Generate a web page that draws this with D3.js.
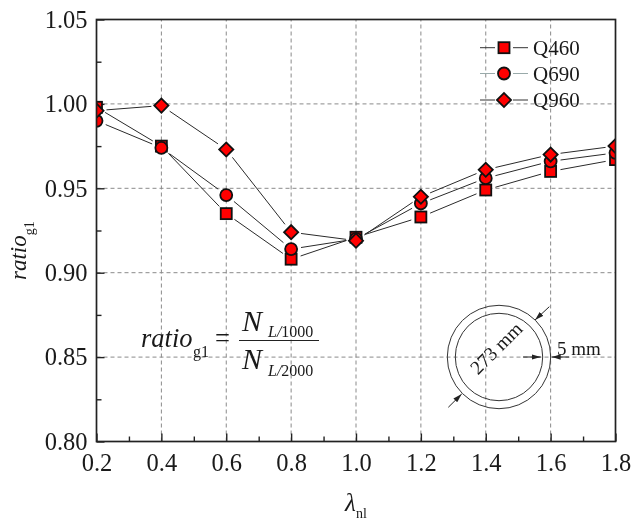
<!DOCTYPE html>
<html>
<head>
<meta charset="utf-8">
<script src="https://cdn.jsdelivr.net/npm/d3@7"></script>
<style>
  html, body { margin: 0; padding: 0; background: #fff; }
  svg { display: block; filter: blur(0.35px); }
  text { font-family: "Liberation Serif", serif; fill: #1a1a1a; }
</style>
</head>
<body>
<svg id="chart" width="631" height="521"></svg>
<script>
const lambda = [0.2, 0.4, 0.6, 0.8, 1.0, 1.2, 1.4, 1.6, 1.8]
const q460 = [0.998, 0.975, 0.935, 0.908, 0.921, 0.933, 0.949, 0.960, 0.967]
const q690 = [0.990, 0.974, 0.946, 0.914, 0.920, 0.941, 0.956, 0.966, 0.971]
const q960 = [0.996, 0.999, 0.973, 0.924, 0.919, 0.945, 0.961, 0.970, 0.975]
const seriesNames = ['Q460', 'Q690', 'Q960']
const seriesValues = [q460, q690, q960]
const seriesSymbols = ['square', 'circle', 'diamond']
const xTicks = [0.2, 0.4, 0.6, 0.8, 1.0, 1.2, 1.4, 1.6, 1.8]
const xMinorTicks = [0.3, 0.5, 0.7, 0.9, 1.1, 1.3, 1.5, 1.7]
const yTicks = [0.80, 0.85, 0.90, 0.95, 1.00, 1.05]
const yMinorTicks = [0.825, 0.875, 0.925, 0.975, 1.025]

const svg = d3.select('#chart')
const margin = {top: 19.5, right: 15.5, bottom: 79.5, left: 96.5}
const width = 631
const height = 521

const x = d3.scaleLinear().domain([0.2, 1.8]).range([margin.left, width - margin.right])
const y = d3.scaleLinear().domain([0.80, 1.05]).range([height - margin.bottom, margin.top])

// the markers at both ends get cut by the frame in the original
svg.append('clipPath').attr('id', 'plot-clip')
  .append('rect')
  .attr('x', margin.left)
  .attr('y', margin.top)
  .attr('width', x.range()[1] - margin.left)
  .attr('height', y.range()[0] - margin.top)

// dashed grid
const grid = svg.append('g')
  .attr('stroke', '#8a8a8a')
  .attr('stroke-width', 1)
  .attr('stroke-dasharray', '4 3')
grid.selectAll('.gx')
  .data(xTicks.slice(1, -1))
  .enter().append('line')
  .attr('x1', d => x(d)).attr('x2', d => x(d))
  .attr('y1', y(0.80)).attr('y2', y(1.05))
grid.selectAll('.gy')
  .data(yTicks.slice(1, -1))
  .enter().append('line')
  .attr('x1', x(0.2)).attr('x2', x(1.8))
  .attr('y1', d => y(d)).attr('y2', d => y(d))

// inward ticks, labels sit outside
function styleAxis(g) {
  g.select('.domain').remove()
  g.selectAll('line').attr('stroke', '#222').attr('stroke-width', 1.4)
  g.selectAll('text').attr('font-size', 24.5).attr('fill', '#1a1a1a')
    .attr('font-family', '"Liberation Serif", serif')
}

svg.append('g')
  .attr('transform', `translate(0,${y(0.80)})`)
  .call(d3.axisBottom(x).tickValues(xTicks).tickFormat(d3.format('.1f')).tickSizeInner(-8).tickPadding(12))
  .call(styleAxis)
  .selectAll('text').attr('dy', '0.71em')

svg.append('g')
  .attr('transform', `translate(${margin.left},0)`)
  .call(d3.axisLeft(y).tickValues(yTicks).tickFormat(d3.format('.2f')).tickSizeInner(-8).tickPadding(9))
  .call(styleAxis)

svg.append('g')
  .attr('transform', `translate(0,${y(0.80)})`)
  .call(d3.axisBottom(x).tickValues(xMinorTicks).tickFormat('').tickSizeInner(-5))
  .call(styleAxis)

svg.append('g')
  .attr('transform', `translate(${margin.left},0)`)
  .call(d3.axisLeft(y).tickValues(yMinorTicks).tickFormat('').tickSizeInner(-5))
  .call(styleAxis)

// series lines stop short of the markers
const gap = 10
seriesValues.forEach(values => {
  const pts = values.map((v, i) => [x(lambda[i]), y(v)])
  const g = svg.append('g').attr('clip-path', 'url(#plot-clip)')
  d3.pairs(pts).forEach(([a, b]) => {
    const dx = b[0] - a[0]
    const dy = b[1] - a[1]
    const len = Math.hypot(dx, dy)
    g.append('line')
      .attr('x1', a[0] + dx / len * gap)
      .attr('y1', a[1] + dy / len * gap)
      .attr('x2', b[0] - dx / len * gap)
      .attr('y2', b[1] - dy / len * gap)
      .attr('stroke', '#2a2a2a')
      .attr('stroke-width', 1)
  })
})

function drawMarker(g, kind, cx, cy) {
  if (kind == 'square') {
    g.append('rect').attr('x', cx - 5.5).attr('y', cy - 5.5).attr('width', 11).attr('height', 11)
      .attr('fill', '#f00').attr('stroke', '#111').attr('stroke-width', 1.8)
  } else if (kind == 'circle') {
    g.append('circle').attr('cx', cx).attr('cy', cy).attr('r', 6)
      .attr('fill', '#f00').attr('stroke', '#111').attr('stroke-width', 1.8)
  } else {
    g.append('path').attr('d', d3.symbol().type(d3.symbolSquare).size(100))
      .attr('transform', `translate(${cx},${cy}) rotate(45)`)
      .attr('fill', '#f00').attr('stroke', '#111').attr('stroke-width', 1.8)
  }
}

seriesValues.forEach((values, s) => {
  const g = svg.append('g').attr('clip-path', 'url(#plot-clip)')
  values.forEach((v, i) => drawMarker(g, seriesSymbols[s], x(lambda[i]), y(v)))
})

// frame on top
svg.append('rect')
  .attr('x', margin.left)
  .attr('y', margin.top)
  .attr('width', x.range()[1] - margin.left)
  .attr('height', y.range()[0] - margin.top)
  .attr('fill', 'none')
  .attr('stroke', '#222')
  .attr('stroke-width', 1.7)

// legend
const legendY = [47.7, 73.5, 100]
seriesNames.forEach((name, i) => {
  const g = svg.append('g')
  g.append('line').attr('x1', 480).attr('x2', 495).attr('y1', legendY[i]).attr('y2', legendY[i])
    .attr('stroke', i == 1 ? '#9aa' : '#333')
  g.append('line').attr('x1', 513).attr('x2', 528).attr('y1', legendY[i]).attr('y2', legendY[i])
    .attr('stroke', i == 1 ? '#9aa' : '#333')
  drawMarker(g, seriesSymbols[i], 504, legendY[i])
  g.append('text').attr('x', 533).attr('y', legendY[i] + 7).attr('font-size', 21).text(name)
})

// axis titles
svg.append('text')
  .attr('transform', 'translate(26,280) rotate(-90)')
  .attr('font-size', 23)
  .call(t => {
    t.append('tspan').attr('font-style', 'italic').text('ratio')
    t.append('tspan').attr('font-size', 14).attr('dy', 8).text('g1')
  })

svg.append('text').attr('x', 345).attr('y', 511)
  .attr('font-size', 25).attr('font-style', 'italic').text('λ')
svg.append('text').attr('x', 356).attr('y', 518)
  .attr('font-size', 14).text('nl')

// formula
svg.append('text').attr('x', 141).attr('y', 347).attr('font-size', 26.5)
  .attr('font-style', 'italic').text('ratio')
svg.append('text').attr('x', 193).attr('y', 357).attr('font-size', 16).text('g1')
svg.append('text').attr('x', 215).attr('y', 347).attr('font-size', 26.5).text('=')
svg.append('line').attr('x1', 239).attr('x2', 319).attr('y1', 340.5).attr('y2', 340.5)
  .attr('stroke', '#222').attr('stroke-width', 1.2)
svg.append('text').attr('x', 242).attr('y', 331).attr('font-size', 30).attr('font-style', 'italic').text('N')
svg.append('text').attr('x', 268).attr('y', 337).attr('font-size', 16)
  .call(t => {
    t.append('tspan').attr('font-style', 'italic').text('L/')
    t.append('tspan').text('1000')
  })
svg.append('text').attr('x', 242).attr('y', 369).attr('font-size', 30).attr('font-style', 'italic').text('N')
svg.append('text').attr('x', 268).attr('y', 376).attr('font-size', 16)
  .call(t => {
    t.append('tspan').attr('font-style', 'italic').text('L/')
    t.append('tspan').text('2000')
  })

// tube section sketch
const tube = svg.append('g').attr('fill', 'none').attr('stroke', '#333').attr('stroke-width', 1)
tube.append('circle').attr('cx', 499).attr('cy', 357).attr('r', 51.7)
tube.append('circle').attr('cx', 499).attr('cy', 357).attr('r', 43.7)

svg.append('marker').attr('id', 'arrow')
  .attr('viewBox', '0 0 10 6').attr('refX', 10).attr('refY', 3)
  .attr('markerWidth', 9).attr('markerHeight', 5.4).attr('markerUnits', 'userSpaceOnUse')
  .attr('orient', 'auto')
  .append('path').attr('d', 'M0,0L10,3L0,6Z').attr('fill', '#222')

const arrows = [
  [549.3, 306.7, 535, 320],
  [448.3, 407.3, 461.7, 394],
  [523, 357, 540.7, 357],
  [569, 357, 551.7, 357]
]
svg.selectAll('.arrow').data(arrows).enter().append('line')
  .attr('x1', d => d[0]).attr('y1', d => d[1])
  .attr('x2', d => d[2]).attr('y2', d => d[3])
  .attr('stroke', '#222').attr('stroke-width', 1)
  .attr('marker-end', 'url(#arrow)')

svg.append('text')
  .attr('transform', 'translate(496,348) rotate(-45)')
  .attr('text-anchor', 'middle').attr('dy', '0.35em')
  .attr('font-size', 19.5).text('273 mm')
svg.append('text').attr('x', 557).attr('y', 355).attr('font-size', 19).text('5 mm')
</script>
</body>
</html>
